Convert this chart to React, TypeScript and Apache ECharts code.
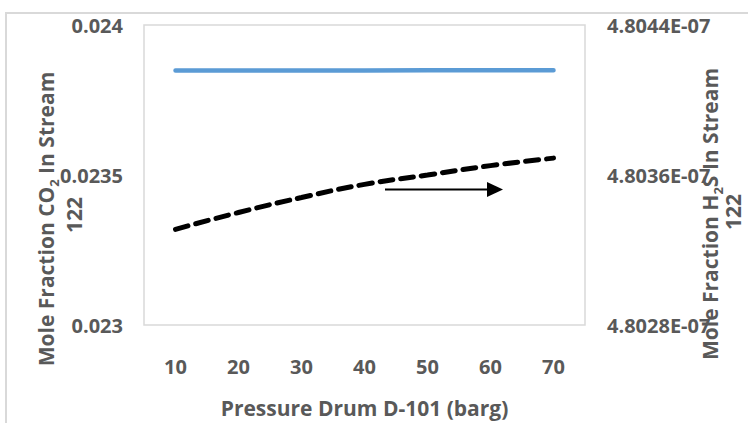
import React, { useEffect, useRef } from "react";
import * as echarts from "echarts";

const pressure = ["10", "20", "30", "40", "50", "60", "70"];
const co2Fraction = [0.023848, 0.023848, 0.023848, 0.023848, 0.023849, 0.023849, 0.023849];
const h2sFraction = [4.80331e-7, 4.8034e-7, 4.80348e-7, 4.80355e-7, 4.8036e-7, 4.80365e-7, 4.80369e-7];
const leftTicks = { min: 0.023, max: 0.024, interval: 0.0005 };
const rightTicks = { min: 4.8028e-7, max: 4.8044e-7, interval: 8e-11 };

const TXT = "#595959";
const FONT = "'Open Sans', 'Noto Sans', sans-serif";
const TICK_SIZE = 20;
const TITLE_SIZE = 21;

function fmtExp(v: number): string {
  const s = v.toExponential(4);
  const [m, e] = s.split("e");
  const sign = e.startsWith("-") ? "-" : "+";
  const digits = e.replace(/^[+-]/, "").padStart(2, "0");
  return `${m}E${sign}${digits}`;
}

function rotTitle(x: number, y: number, rich: string) {
  return {
    type: "text",
    x,
    y,
    rotation: Math.PI / 2,
    z: 20,
    style: {
      text: rich,
      align: "center",
      verticalAlign: "middle",
      fill: TXT,
      font: `bold ${TITLE_SIZE}px ${FONT}`,
      rich: {
        n: { fontSize: TITLE_SIZE, fontWeight: "bold", fontFamily: FONT, fill: TXT, lineHeight: 28, verticalAlign: "middle" },
        s: { fontSize: 13, fontWeight: "bold", fontFamily: FONT, fill: TXT, lineHeight: 13, verticalAlign: "bottom" },
      },
    },
  };
}

function rotPlain(x: number, y: number, text: string) {
  return {
    type: "text",
    x,
    y,
    rotation: Math.PI / 2,
    z: 20,
    style: {
      text,
      align: "center",
      verticalAlign: "middle",
      fill: TXT,
      font: `bold ${TITLE_SIZE}px ${FONT}`,
      lineHeight: 20,
    },
  };
}

export default function App() {
  const ref = useRef<HTMLDivElement>(null);
  useEffect(() => {
    if (!ref.current) return;
    const chart = echarts.init(ref.current, undefined, { renderer: "svg" });
    chart.setOption({
      animation: false,
      backgroundColor: "#ffffff",
      textStyle: { fontFamily: FONT },
      grid: {
        left: 144,
        top: 25,
        width: 441,
        height: 313,
        show: true,
        borderColor: "#d9d9d9",
        borderWidth: 1.5,
        backgroundColor: "transparent",
      },
      xAxis: {
        type: "category",
        data: pressure,
        boundaryGap: true,
        axisLine: { show: false },
        axisTick: { show: false },
        axisLabel: { color: TXT, fontSize: TICK_SIZE, fontWeight: "bold", fontFamily: FONT, margin: 31 },
        name: "Pressure Drum D-101 (barg)",
        nameLocation: "middle",
        nameGap: 72,
        nameTextStyle: { color: TXT, fontSize: TITLE_SIZE, fontWeight: "bold", fontFamily: FONT },
      },
      yAxis: [
        {
          type: "value",
          min: leftTicks.min,
          max: leftTicks.max,
          interval: leftTicks.interval,
          axisLine: { show: false },
          axisTick: { show: false },
          splitLine: { show: false },
          axisLabel: {
            color: TXT,
            fontSize: TICK_SIZE,
            fontWeight: "bold",
            fontFamily: FONT,
            margin: 21,
            formatter: (v: number) => String(+v.toFixed(4)),
          },
        },
        {
          type: "value",
          position: "right",
          min: rightTicks.min,
          max: rightTicks.max,
          interval: rightTicks.interval,
          axisLine: { show: false },
          axisTick: { show: false },
          splitLine: { show: false },
          axisLabel: {
            color: TXT,
            fontSize: TICK_SIZE,
            fontWeight: "bold",
            fontFamily: FONT,
            margin: 22,
            formatter: (v: number) => fmtExp(v),
          },
        },
      ],
      series: [
        {
          type: "line",
          yAxisIndex: 0,
          data: co2Fraction,
          showSymbol: false,
          lineStyle: { color: "#5b9bd5", width: 4.5, cap: "round" },
          z: 3,
        },
        {
          type: "line",
          yAxisIndex: 1,
          data: h2sFraction,
          smooth: true,
          showSymbol: false,
          lineStyle: { color: "#000000", width: 5, type: [13, 8], cap: "round" },
          z: 4,
        },
      ],
      graphic: [
        {
          type: "rect",
          shape: { x: 6, y: 13, width: 900, height: 600 },
          style: { fill: "none", stroke: "#d9d9d9", lineWidth: 2 },
          silent: true,
          z: -1,
        },
        rotTitle(46, 219, "{n|Mole Fraction CO}{s|2}{n| In Stream}"),
        rotPlain(74, 215, "122"),
        rotTitle(710, 214, "{n|Mole Fraction H}{s|2}{n|S In Stream}"),
        rotPlain(733, 212, "122"),
        {
          type: "line",
          shape: { x1: 385, y1: 189.5, x2: 490, y2: 189.5 },
          style: { stroke: "#000", lineWidth: 2 },
          z: 10,
        },
        {
          type: "polygon",
          shape: { points: [[487, 182], [503, 189.5], [487, 197]] },
          style: { fill: "#000" },
          z: 10,
        },
      ],
    });
    return () => chart.dispose();
  }, []);
  return (
    <div
      ref={ref}
      style={{ position: "fixed", left: 0, top: 0, width: 748, height: 423, background: "#fff" }}
    />
  );
}
